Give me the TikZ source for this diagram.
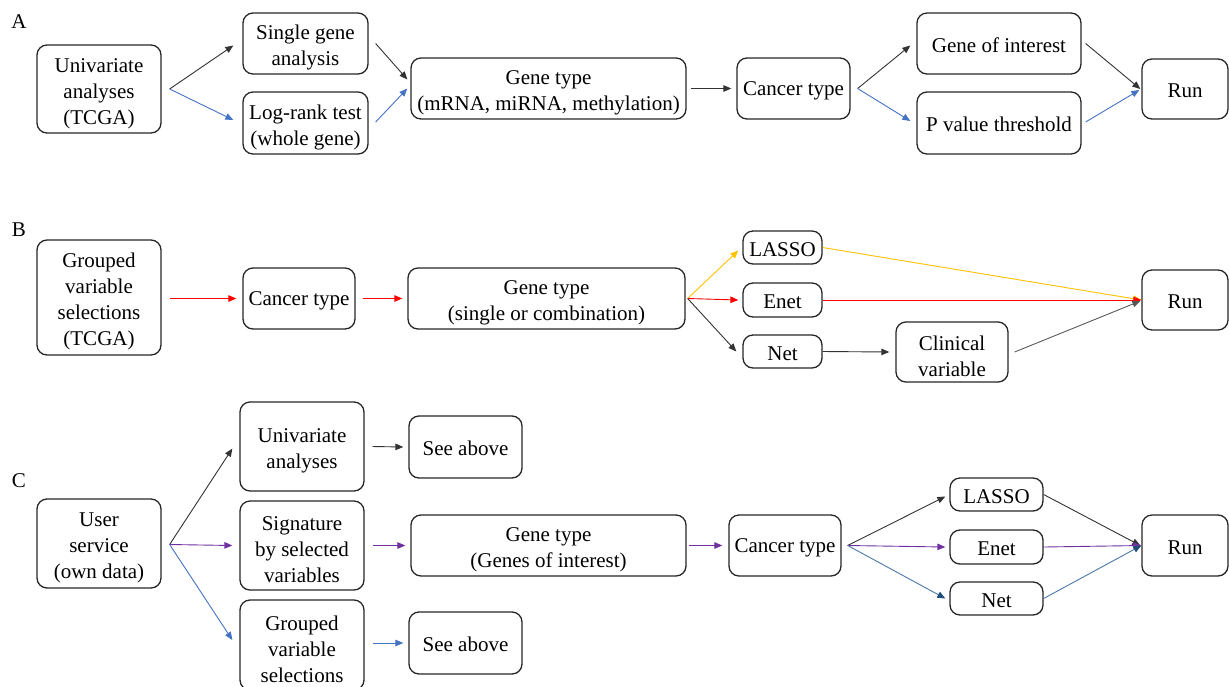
\documentclass[tikz,border=0pt]{standalone}
\usepackage{fontspec}
\setmainfont{Liberation Serif}
\usetikzlibrary{arrows.meta}
\definecolor{cblue}{HTML}{4472C4}
\definecolor{cred}{HTML}{FF0000}
\definecolor{cyellow}{HTML}{FFC000}
\definecolor{cpurple}{HTML}{7030A0}
\definecolor{csteel}{HTML}{4A78A8}
\definecolor{csteeldark}{HTML}{1F4E79}
\definecolor{cdark}{HTML}{333333}
\newcommand{\topstrutx}{\rule{0pt}{23pt}}
\tikzset{
  box/.style={draw=black!85, line width=1.3pt, rounded corners=10pt, align=center, inner sep=0pt, font=\fontsize{21}{26}\selectfont, execute at begin node={\rule{0pt}{18pt}}},
  arr/.style={-{Triangle[length=8pt,width=6.5pt]}, line width=0.9pt, draw=cdark},
  lbl/.style={font=\fontsize{21}{26}\selectfont, inner sep=0pt}
}
\begin{document}
\begin{tikzpicture}[x=1pt,y=-1pt]
\useasboundingbox (0,0) rectangle (1229,686);
% labels
\node[lbl] (lA) at (19,22) {A};
\node[lbl] (lB) at (19,230) {B};
\node[lbl] (lC) at (19,481) {C};
% ---------- Panel A ----------
\node[box, minimum width=124pt, minimum height=88pt] (uA) at (99,89) {\topstrutx Univariate\\analyses\\(TCGA)};
\node[box, minimum width=125pt, minimum height=61pt] (sgA) at (305.5,43.5) {\topstrutx Single gene\\analysis};
\node[box, minimum width=125pt, minimum height=62pt] (lrA) at (305.5,123) {\topstrutx Log-rank test\\(whole gene)};
\node[box, minimum width=275pt, minimum height=61pt] (gtA) at (548.5,88.5) {\topstrutx Gene type\\(mRNA, miRNA, methylation)};
\node[box, minimum width=113pt, minimum height=61pt] (ctA) at (793.5,88.5) {Cancer type};
\node[box, minimum width=164pt, minimum height=61pt] (goiA) at (999,43.5) {Gene of interest};
\node[box, minimum width=164pt, minimum height=62pt] (pvA) at (999,123) {P value threshold};
\node[box, minimum width=86pt, minimum height=60pt] (runA) at (1185,89) {Run};

\coordinate (fA) at ([shift={(8,0)}]uA.east);
\draw[arr] (fA) -- ([shift={(-9,2)}]sgA.west);
\draw[arr,draw=cblue] (fA) -- ([shift={(-9,-3)}]lrA.west);
\draw[arr] ([shift={(7,0)}]sgA.east) -- ([shift={(-3,-9)}]gtA.west);
\draw[arr,draw=cblue] ([shift={(7,-1)}]lrA.east) -- ([shift={(-3,0)}]gtA.west);
\draw[arr] ([shift={(4,0)}]gtA.east) -- ([shift={(-5,0)}]ctA.west);
\coordinate (fA2) at ([shift={(7,0)}]ctA.east);
\draw[arr] (fA2) -- ([shift={(-6,2)}]goiA.west);
\draw[arr,draw=cblue] (fA2) -- ([shift={(-6,-2)}]pvA.west);
\draw[arr] ([shift={(4,0)}]goiA.east) -- ([shift={(-1,0)}]runA.west);
\draw[arr,draw=cblue] ([shift={(4,-1)}]pvA.east) -- ([shift={(-2,1)}]runA.west);

% ---------- Panel B ----------
\node[box, minimum width=124pt, minimum height=115pt] (gvB) at (99,297.5) {\topstrutx Grouped\\variable\\selections\\(TCGA)};
\node[box, minimum width=112pt, minimum height=61pt] (ctB) at (299,298.5) {Cancer type};
\node[box, minimum width=277pt, minimum height=61pt] (gtB) at (546.5,298.5) {\topstrutx Gene type\\(single or combination)};
\node[box, minimum width=79pt, minimum height=33pt] (laB) at (782.5,247.5) {LASSO};
\node[box, minimum width=79pt, minimum height=34pt] (enB) at (782.5,300) {Enet};
\node[box, minimum width=79pt, minimum height=33pt] (neB) at (782.5,351.5) {Net};
\node[box, minimum width=112pt, minimum height=60pt] (clB) at (952,352) {\topstrutx Clinical\\variable};
\node[box, minimum width=86pt, minimum height=60pt] (runB) at (1185,300) {Run};

\draw[arr,draw=cred] ([shift={(8,1)}]gvB.east) -- ([shift={(-6,0)}]ctB.west);
\draw[arr,draw=cred] ([shift={(7,0)}]ctB.east) -- ([shift={(-5,0)}]gtB.west);
\coordinate (fB) at ([shift={(2,0)}]gtB.east);
\draw[arr,draw=cyellow] (fB) -- ([shift={(-4,3)}]laB.west);
\draw[arr,draw=cred] (fB) -- ([shift={(-4,0)}]enB.west);
\draw[arr] (fB) -- ([shift={(-6,0)}]neB.west);
\draw[arr] (neB.east) -- ([shift={(-6,0)}]clB.west);
\draw[arr,draw=cyellow] (laB.east) -- (runB.west);
\draw[arr,draw=cred] (enB.east) -- (runB.west);
\draw[arr,draw=black!65] ([shift={(6,0)}]clB.east) -- ([shift={(-1,1)}]runB.west);

% ---------- Panel C ----------
\node[box, minimum width=124pt, minimum height=89pt] (usC) at (99,543.5) {\topstrutx User\\service\\(own data)};
\node[box, minimum width=124pt, minimum height=89pt] (uvC) at (302,446.5) {\topstrutx Univariate\\analyses};
\node[box, minimum width=124pt, minimum height=89pt] (sgC) at (302,545.5) {\topstrutx Signature\\by selected\\variables};
\node[box, minimum width=124pt, minimum height=90pt] (gvC) at (302,645) {\topstrutx Grouped\\variable\\selections};
\node[box, minimum width=113pt, minimum height=62pt] (sa1C) at (465.5,447) {See above};
\node[box, minimum width=113pt, minimum height=62pt] (sa2C) at (465.5,643) {See above};
\node[box, minimum width=275pt, minimum height=61pt] (gtC) at (548.5,545.5) {\topstrutx Gene type\\(Genes of interest)};
\node[box, minimum width=112pt, minimum height=61pt] (ctC) at (785,545.5) {Cancer type};
\node[box, minimum width=93pt, minimum height=33pt] (laC) at (996.5,494.5) {LASSO};
\node[box, minimum width=93pt, minimum height=34pt] (enC) at (996.5,547) {Enet};
\node[box, minimum width=93pt, minimum height=33pt] (neC) at (996.5,598.5) {Net};
\node[box, minimum width=86pt, minimum height=61pt] (runC) at (1185,545.5) {Run};

\coordinate (fC) at ([shift={(8,1)}]usC.east);
\draw[arr] (fC) -- ([shift={(-7,2)}]uvC.west);
\draw[arr,draw=cpurple] (fC) -- ([shift={(-7,0)}]sgC.west);
\draw[arr,draw=cblue] (fC) -- ([shift={(-7,-5)}]gvC.west);
\draw[arr] ([shift={(8,0)}]uvC.east) -- ([shift={(-5,0)}]sa1C.west);
\draw[arr,draw=cpurple] ([shift={(8,0)}]sgC.east) -- ([shift={(-5,0)}]gtC.west);
\draw[arr,draw=cblue] ([shift={(8,-2)}]gvC.east) -- ([shift={(-5,0)}]sa2C.west);
\draw[arr,draw=cpurple] ([shift={(2,0)}]gtC.east) -- ([shift={(-6,0)}]ctC.west);
\coordinate (fC2) at ([shift={(6,0)}]ctC.east);
\draw[arr] (fC2) -- ([shift={(-4,2)}]laC.west);
\draw[arr,draw=cpurple] (fC2) -- ([shift={(-4,0)}]enC.west);
\draw[arr,draw=csteel,-{Triangle[length=8pt,width=6.5pt,color=csteeldark]}] (fC2) -- ([shift={(-4,0)}]neC.west);
\draw[arr] (laC.east) -- ([shift={(-1,0)}]runC.west);
\draw[arr,draw=cpurple] (enC.east) -- (runC.west);
\draw[arr,draw=csteel,-{Triangle[length=8pt,width=6.5pt,color=csteeldark]}] (neC.east) -- (runC.west);
\end{tikzpicture}
\end{document}
